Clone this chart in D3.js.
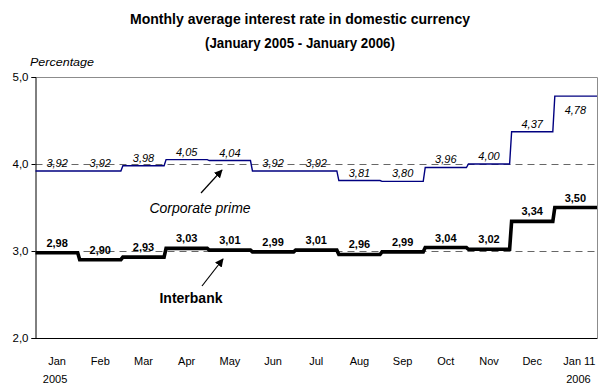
<!DOCTYPE html>
<html>
<head>
<meta charset="utf-8">
<script src="https://cdn.jsdelivr.net/npm/d3@7"></script>
<style>
  html, body { margin: 0; padding: 0; background: #fff; }
  svg { display: block; font-family: "Liberation Sans", Arial, sans-serif; }
</style>
</head>
<body>
<svg id="chart" width="602" height="387"></svg>
<script>
// Monthly periods, January 2005 to January 2006 (last one up to the 11th)
const months = ["Jan", "Feb", "Mar", "Apr", "May", "Jun", "Jul", "Aug", "Sep", "Oct", "Nov", "Dec", "Jan 11"];
const yearLabels = ["2005", "", "", "", "", "", "", "", "", "", "", "", "2006"];
// Average rates, percent
const corporatePrime = [3.92, 3.92, 3.98, 4.05, 4.04, 3.92, 3.92, 3.81, 3.80, 3.96, 4.00, 4.37, 4.78];
const interbank = [2.98, 2.90, 2.93, 3.03, 3.01, 2.99, 3.01, 2.96, 2.99, 3.04, 3.02, 3.34, 3.50];
const yTicks = [2, 3, 4, 5];
const gridValues = [3, 4];

const svg = d3.select("#chart");
const plotLeft = 35.5, plotRight = 597, plotTop = 77, plotBottom = 338;

const x = d3.scaleBand().domain(d3.range(months.length)).range([plotLeft, plotRight]).padding(0);
const y = d3.scaleLinear().domain([2, 5]).range([plotBottom, plotTop]);
const fmt = v => d3.format(".2f")(v).replace(".", ",");

// Title
const title = svg.append("g").attr("font-weight", "bold").attr("font-size", 15)
  .attr("text-anchor", "middle").attr("fill", "#000");
title.append("text").attr("x", 300).attr("y", 24)
  .attr("textLength", 340).attr("lengthAdjust", "spacingAndGlyphs")
  .text("Monthly average interest rate in domestic currency");
title.append("text").attr("x", 300).attr("y", 48)
  .attr("textLength", 190).attr("lengthAdjust", "spacingAndGlyphs")
  .text("(January 2005 - January 2006)");

svg.append("text").attr("x", 30).attr("y", 66).attr("font-size", 11)
  .attr("font-style", "italic").attr("textLength", 64).attr("lengthAdjust", "spacingAndGlyphs")
  .text("Percentage");

// Frame: grey top/right border
svg.append("path")
  .attr("d", `M${plotLeft},${plotTop + 0.5}H${plotRight + 0.5}V${plotBottom}`)
  .attr("fill", "none").attr("stroke", "#8c8c8c").attr("stroke-width", 1);

// Dashed reference lines
svg.selectAll("line.grid").data(gridValues).join("line")
  .attr("class", "grid")
  .attr("x1", plotLeft).attr("x2", plotRight)
  .attr("y1", d => Math.round(y(d)) + 0.5).attr("y2", d => Math.round(y(d)) + 0.5)
  .attr("stroke", "#666").attr("stroke-width", 1).attr("stroke-dasharray", "7,5");

// Y axis
const yAxis = d3.axisLeft(y).tickValues(yTicks).tickSize(4).tickPadding(3)
  .tickFormat(d => d3.format(".1f")(d).replace(".", ","));
const yg = svg.append("g").attr("transform", `translate(${plotLeft},0)`).call(yAxis);
yg.select(".domain").attr("stroke", "#000");
yg.selectAll(".tick line").attr("stroke", "#000");
yg.selectAll(".tick text").attr("font-size", 11.5).attr("fill", "#000")
  .attr("font-family", "'Liberation Sans', Arial, sans-serif");

// X axis baseline
svg.append("line").attr("x1", plotLeft).attr("x2", plotRight + 0.5)
  .attr("y1", plotBottom + 0.5).attr("y2", plotBottom + 0.5).attr("stroke", "#000");

// Month labels
const xl = svg.append("g").attr("font-size", 11).attr("text-anchor", "middle");
xl.selectAll("text.m").data(months).join("text").attr("class", "m")
  .attr("x", (d, i) => x(i) + x.bandwidth() / 2 + (i === 12 ? 4 : 0))
  .attr("y", 365).text(d => d);
xl.selectAll("text.yr").data(yearLabels).join("text").attr("class", "yr")
  .attr("x", (d, i) => x(i) + x.bandwidth() / 2 + (i === 12 ? 3 : -2))
  .attr("y", 383).text(d => d);

// Step lines: one flat segment per month
function stepPoints(values) {
  const pts = [];
  values.forEach((v, i) => {
    pts.push([x(i) + (i === 0 ? 0 : 1), y(v)]);
    pts.push([x(i) + x.bandwidth() - 1, y(v)]);
  });
  pts[pts.length - 1][0] = plotRight;
  return pts;
}
const line = d3.line();

svg.append("path").attr("d", line(stepPoints(corporatePrime)))
  .attr("fill", "none").attr("stroke", "#000080").attr("stroke-width", 1.4);
svg.append("path").attr("d", line(stepPoints(interbank)))
  .attr("fill", "none").attr("stroke", "#000").attr("stroke-width", 3.6)
  .attr("stroke-linejoin", "miter");

// Value labels
svg.append("g").attr("font-size", 11).attr("font-style", "italic").attr("text-anchor", "middle")
  .selectAll("text").data(corporatePrime).join("text")
  .attr("x", (d, i) => x(i) + x.bandwidth() / 2)
  .attr("y", (d, i) => i === corporatePrime.length - 1 ? y(d) + 18 : y(d) - 4)
  .text(fmt);

svg.append("g").attr("font-size", 11).attr("font-weight", "bold").attr("text-anchor", "middle")
  .selectAll("text").data(interbank).join("text")
  .attr("x", (d, i) => x(i) + x.bandwidth() / 2)
  .attr("y", d => y(d) - 6)
  .text(fmt);

// Series annotations with arrows
svg.append("defs").append("marker").attr("id", "arrow")
  .attr("viewBox", "0 0 10 10").attr("refX", 9).attr("refY", 5)
  .attr("markerWidth", 7).attr("markerHeight", 7).attr("orient", "auto")
  .append("path").attr("d", "M0,0L10,5L0,10z").attr("fill", "#000");

svg.append("line").attr("x1", 201).attr("y1", 193).attr("x2", 222).attr("y2", 170)
  .attr("stroke", "#000").attr("stroke-width", 1.2).attr("marker-end", "url(#arrow)");
svg.append("text").attr("x", 200).attr("y", 213).attr("text-anchor", "middle")
  .attr("font-size", 14).attr("font-style", "italic").text("Corporate prime");

svg.append("line").attr("x1", 202).attr("y1", 286).attr("x2", 223).attr("y2", 259)
  .attr("stroke", "#000").attr("stroke-width", 1.2).attr("marker-end", "url(#arrow)");
svg.append("text").attr("x", 191).attr("y", 303).attr("text-anchor", "middle")
  .attr("font-size", 14).attr("font-weight", "bold").text("Interbank");
</script>
</body>
</html>
